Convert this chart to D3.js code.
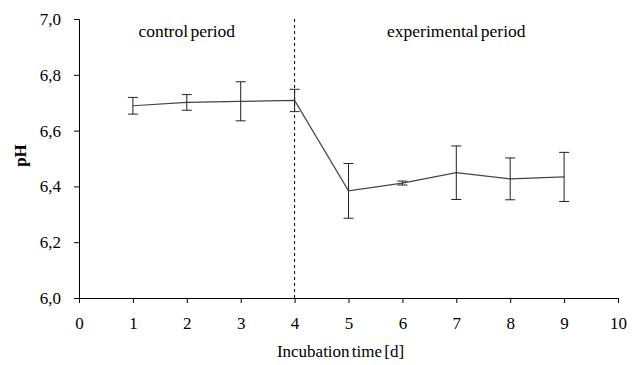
<!DOCTYPE html>
<html>
<head>
<meta charset="utf-8">
<script src="https://cdn.jsdelivr.net/npm/d3@7"></script>
<style>
  body { margin: 0; background: #fff; }
</style>
</head>
<body>
<div id="chart"></div>
<script>
// incubation days and measured pH (mean, sd)
const days = [1, 2, 3, 4, 5, 6, 7, 8, 9];
const phMean = [6.689, 6.701, 6.705, 6.708, 6.384, 6.412, 6.449, 6.427, 6.434];
const phErr = [0.030, 0.028, 0.070, 0.040, 0.098, 0.007, 0.096, 0.075, 0.088];
const xTicks = [0, 1, 2, 3, 4, 5, 6, 7, 8, 9, 10];
const yTicks = [6.0, 6.2, 6.4, 6.6, 6.8, 7.0];
const periodSplit = 4;
const periodLabels = [
  { text: 'control period', day: 2 },
  { text: 'experimental period', day: 7 }
];

const serif = '"Liberation Serif", "Times New Roman", Times, serif';
const width = 639, height = 365;
const margin = { top: 19, right: 21, bottom: 67, left: 79 };

const svg = d3.select('#chart').append('svg')
  .attr('width', width)
  .attr('height', height)
  .style('font-family', serif);

const x = d3.scaleLinear()
  .domain([0, 10])
  .range([margin.left, width - margin.right]);

const y = d3.scaleLinear()
  .domain([6.0, 7.0])
  .range([height - margin.bottom, margin.top]);

const fmt = d => d3.format('.1f')(d).replace('.', ',');

// x axis
const gx = svg.append('g')
  .attr('transform', 'translate(0,' + (height - margin.bottom) + ')')
  .call(d3.axisBottom(x).tickValues(xTicks).tickSize(5).tickPadding(14).tickFormat(d3.format('d')))
  .attr('font-family', null).attr('font-size', null);
gx.selectAll('text').style('font-family', serif).style('font-size', '17px').attr('fill', '#000');

// y axis
const gy = svg.append('g')
  .attr('transform', 'translate(' + margin.left + ',0)')
  .call(d3.axisLeft(y).tickValues(yTicks).tickSize(5).tickPadding(13).tickFormat(fmt))
  .attr('font-family', null).attr('font-size', null);
gy.selectAll('text').style('font-family', serif).style('font-size', '17px').attr('fill', '#000');

svg.selectAll('.domain, .tick line').attr('stroke', '#000').attr('stroke-width', 1);

// period divider
svg.append('line')
  .attr('x1', x(periodSplit)).attr('x2', x(periodSplit))
  .attr('y1', y(7.0)).attr('y2', y(6.0))
  .attr('stroke', '#000')
  .attr('stroke-width', 1)
  .attr('stroke-dasharray', '3,3');

// period labels
svg.selectAll('.period')
  .data(periodLabels)
  .enter().append('text')
  .attr('x', d => x(d.day))
  .attr('y', 37)
  .attr('text-anchor', 'middle')
  .style('font-family', serif)
  .style('font-size', '17.5px')
  .style('word-spacing', '-2px')
  .text(d => d.text);

// mean line
const line = d3.line()
  .x((d, i) => x(days[i]))
  .y(d => y(d));

svg.append('path')
  .datum(phMean)
  .attr('d', line)
  .attr('fill', 'none')
  .attr('stroke', '#444')
  .attr('stroke-width', 1.2);

// error bars
const capW = 5;
const err = svg.selectAll('.err')
  .data(days)
  .enter().append('g');

err.append('line')
  .attr('x1', d => x(d)).attr('x2', d => x(d))
  .attr('y1', (d, i) => y(phMean[i] + phErr[i]))
  .attr('y2', (d, i) => y(phMean[i] - phErr[i]))
  .attr('stroke', '#222');

err.append('line')
  .attr('x1', d => x(d) - capW).attr('x2', d => x(d) + capW)
  .attr('y1', (d, i) => y(phMean[i] + phErr[i]))
  .attr('y2', (d, i) => y(phMean[i] + phErr[i]))
  .attr('stroke', '#222');

err.append('line')
  .attr('x1', d => x(d) - capW).attr('x2', d => x(d) + capW)
  .attr('y1', (d, i) => y(phMean[i] - phErr[i]))
  .attr('y2', (d, i) => y(phMean[i] - phErr[i]))
  .attr('stroke', '#222');

// axis titles
svg.append('text')
  .attr('x', x(5) - 8)
  .attr('y', 357)
  .attr('text-anchor', 'middle')
  .style('font-family', serif)
  .style('font-size', '17px')
  .style('word-spacing', '-2px')
  .text('Incubation time [d]');

svg.append('text')
  .attr('transform', 'translate(26,' + (y(6.5) - 3) + ') rotate(-90)')
  .attr('text-anchor', 'middle')
  .style('font-family', serif)
  .style('font-size', '17px')
  .style('font-weight', 'bold')
  .text('pH');
</script>
</body>
</html>
